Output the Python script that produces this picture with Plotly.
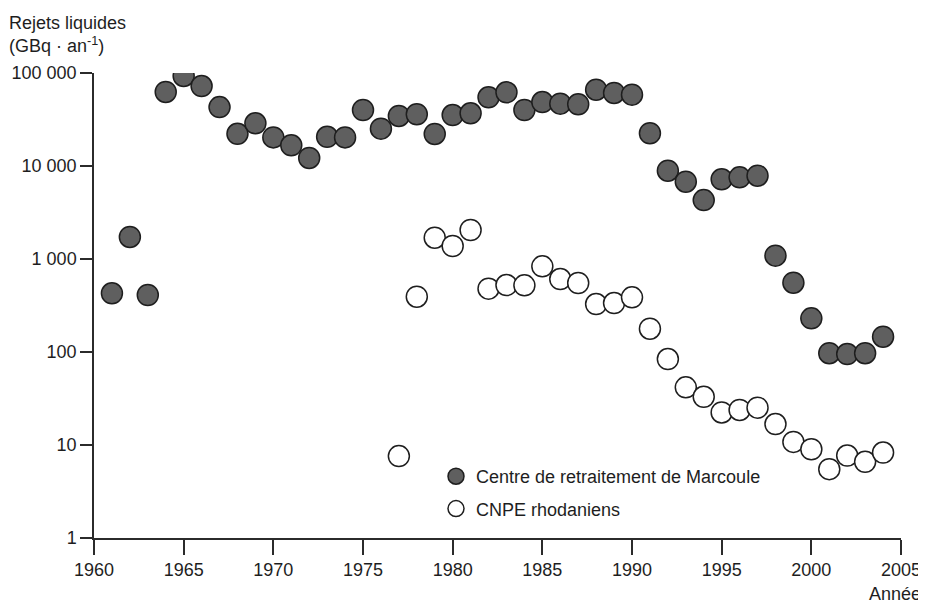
import plotly.graph_objects as go

# années de mesure
years_marcoule = list(range(1961, 2005))
rejets_marcoule = [
    428, 1725, 410, 62500, 92900, 72400, 43000, 22200, 28800, 20300,
    16700, 12200, 20600, 20300, 40000, 25200, 34500, 36000, 22100, 35300,
    36900, 54800, 62000, 40000, 48700, 46800, 46100, 66100, 61000, 58500,
    22500, 8900, 6780, 4300, 7190, 7550, 7860, 1086, 556, 230,
    97, 95, 97, 146,
]

years_cnpe = list(range(1977, 2005))
rejets_cnpe = [
    7.6, 393, 1694, 1380, 2050, 480, 525, 521, 834, 609,
    552, 328, 336, 387, 178, 84, 41.7, 33, 22.4, 23.8,
    25.2, 16.8, 10.8, 9.0, 5.5, 7.7, 6.6, 8.3,
]

y_tickvals = [1, 10, 100, 1000, 10000, 100000]
y_ticktext = ['1', '10', '100', '1 000', '10 000', '100 000']

font_family = 'Liberation Sans, Arial, sans-serif'
axis_color = '#2b2b2b'

# the page body adds an 8px offset, so the figure is drawn 8px smaller
fig = go.Figure()

fig.add_trace(go.Scatter(
    x=years_marcoule, y=rejets_marcoule,
    mode='markers',
    name='Centre de retraitement de Marcoule',
    legendgroup='a',
    marker=dict(size=21, color='#5f5f5f', line=dict(color='#1e1e1e', width=1.5)),
))

fig.add_trace(go.Scatter(
    x=years_cnpe, y=rejets_cnpe,
    mode='markers',
    name='CNPE rhodaniens',
    legendgroup='b',
    marker=dict(size=21, color='white', line=dict(color='#1e1e1e', width=1.5)),
))

fig.update_layout(
    width=918,
    height=595,
    margin=dict(l=86, r=25, t=65, b=65),
    paper_bgcolor='white',
    plot_bgcolor='white',
    font=dict(family=font_family, size=18, color='#1e1e1e'),
    showlegend=True,
    legend=dict(
        x=(436 - 94) / 807, y=(538 - 458) / 465,
        xanchor='left', yanchor='top',
        bgcolor='rgba(0,0,0,0)',
        tracegroupgap=6,
        font=dict(size=18),
        itemsizing='trace',
    ),
    xaxis=dict(
        range=[1960, 2005],
        tick0=1960, dtick=5,
        automargin=False,
        showgrid=False, zeroline=False,
        showline=True, linecolor=axis_color, linewidth=1.5,
        ticks='outside', ticklen=15, tickwidth=1.5, tickcolor=axis_color,
        tickfont=dict(size=18),
    ),
    yaxis=dict(
        type='log',
        range=[0, 5],
        tickvals=y_tickvals, ticktext=y_ticktext,
        automargin=False,
        showgrid=False, zeroline=False,
        showline=True, linecolor=axis_color, linewidth=1.5,
        ticks='outside', ticklen=12, tickwidth=1.5, tickcolor=axis_color,
        tickfont=dict(size=18),
    ),
    annotations=[
        dict(
            text='Rejets liquides<br>(GBq · an<sup>-1</sup>)',
            xref='paper', yref='paper',
            x=(7 - 94) / 807, y=1 + (73 - 11) / 465,
            xanchor='left', yanchor='top',
            align='left', showarrow=False,
            font=dict(size=18),
        ),
        dict(
            text='Année',
            xref='paper', yref='paper',
            x=(895 - 94) / 807, y=-(594 - 538) / 465,
            xanchor='center', yanchor='middle',
            showarrow=False,
            font=dict(size=18),
        ),
    ],
)

fig.write_html('out.html')
